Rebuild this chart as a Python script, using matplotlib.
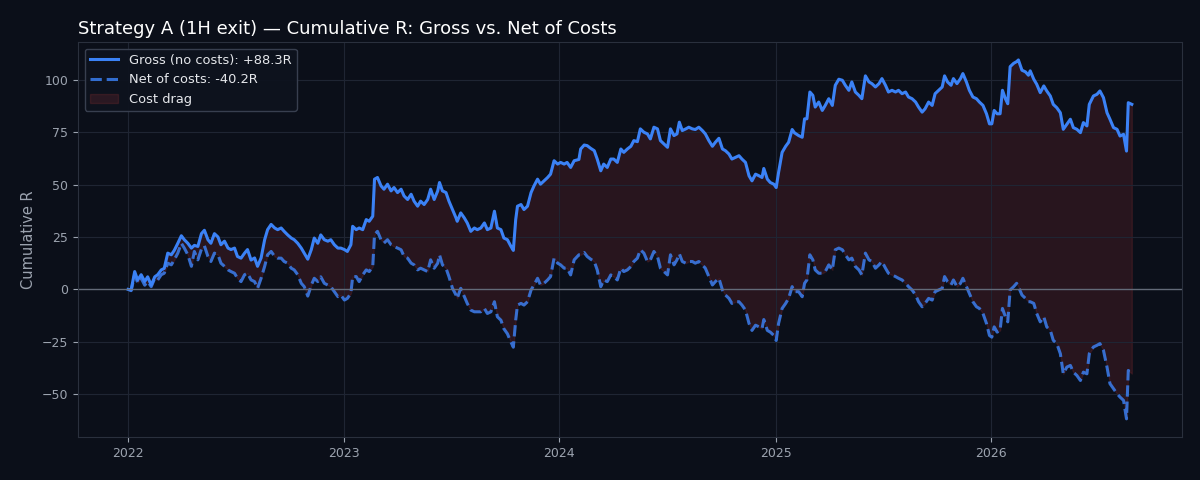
import numpy as np
import pandas as pd
import matplotlib
matplotlib.use("Agg")
import matplotlib.pyplot as plt
import matplotlib.dates as mdates

# days since 2022-01-01
days = [0, 5, 11, 16, 22, 28, 33, 39, 45, 50, 56, 61, 67, 73, 78, 84, 90, 95, 101, 107, 112, 118, 124, 129,
        135, 140, 146, 152, 157, 163, 169, 174, 180, 185, 191, 197, 202, 208, 214, 219, 225, 231, 236, 242,
        248, 253, 259, 264, 270, 276, 281, 287, 293, 298, 304, 310, 315, 321, 326, 332, 338, 343, 349, 355,
        360, 366, 371, 377, 380, 386, 391, 397, 403, 408, 414, 417, 422, 428, 433, 439, 445, 450, 456, 462,
        467, 473, 479, 484, 490, 495, 501, 507, 512, 518, 524, 527, 532, 538, 543, 549, 555, 557, 563, 569,
        574, 580, 586, 591, 597, 603, 608, 614, 620, 625, 631, 636, 642, 648, 652, 656, 659, 665, 670, 676,
        682, 687, 693, 698, 704, 710, 715, 721, 727, 732, 738, 743, 749, 755, 763,
        766, 772, 777, 783, 789, 794, 800, 805, 811, 817, 822, 828, 834, 839, 845, 851, 856, 862, 867, 873,
        879, 884, 890, 896, 901, 907, 913, 918, 924, 929, 933, 938, 944, 949, 955, 960, 966, 972, 977, 983,
        989, 994, 1000, 1006, 1011, 1017, 1022, 1028, 1034, 1039, 1045, 1051, 1056, 1062, 1068, 1073, 1076,
        1082, 1087, 1093, 1097, 1101, 1107, 1113, 1118, 1124, 1128,
        1135, 1141, 1145, 1149, 1154, 1159, 1163, 1169, 1175, 1180, 1186, 1192, 1197, 1203, 1209, 1214, 1220,
        1225, 1231, 1237, 1242, 1248, 1254, 1259, 1265, 1271, 1276, 1282, 1287, 1293, 1299, 1304, 1310, 1316,
        1321, 1327, 1333, 1338, 1344, 1349, 1355, 1361, 1366, 1372, 1378, 1382, 1387, 1393, 1397, 1403, 1409,
        1413, 1419, 1424, 1430, 1436, 1441, 1447, 1453, 1458, 1462, 1466, 1471, 1476, 1480, 1485, 1489, 1493,
        1499, 1504, 1507, 1513, 1519, 1524,
        1527, 1533, 1538, 1544, 1550, 1555, 1561, 1566, 1572, 1578, 1583, 1589, 1595, 1600, 1606, 1612, 1617,
        1623, 1627, 1634, 1640, 1645, 1651, 1657, 1662, 1668, 1674, 1679, 1685, 1690, 1693, 1699]

gross = [0.0, -0.3, 8.5, 4.5, 7, 3.7, 6, 2, 6, 7, 9.3, 10, 17.3, 16.5, 18.6, 22, 25.6, 23.7, 22, 19.7, 21, 20.5,
         26.6, 28.2, 23.7, 22, 26.6, 25, 21.3, 23, 19.7, 19, 19.7, 15.7, 14.9, 17.3, 19, 14, 15, 11, 15, 23.7,
         28.5, 31, 29.3, 28.5, 29.3, 27.7, 26, 24.5, 23.7, 22, 19.7, 17.3, 14.4, 19, 24.5, 22, 26, 23.7, 23,
         23.7, 21.3, 19.7,
         19.7, 19, 18.1, 21.3, 30.1, 28.5, 29.3, 28.5, 33.3, 32.5, 34.9, 52.6, 53.4, 49.4, 47.8, 50.2, 47,
         48.6, 46.2, 47.8, 44.6, 42.9, 45.4, 42.1, 39.7, 42.1, 40.5, 42.9, 47.8, 42.9, 47, 51, 47, 46.2, 42.1,
         38.1, 34.1, 32.5, 36.5, 34.1, 31.7, 27.7, 29.3, 28.5, 29.3, 31.7, 28.5, 29.3, 37.3, 29.3, 28.5, 24.5,
         23.7, 20.5, 18.6, 33.3, 39.7, 40.5, 38.1, 39.7, 46.2, 49.4, 52.6, 50.2, 51.8, 53.4, 55, 61.4, 59.8,
         60.6, 59.8, 60.6, 58.2, 61.4, 62,
         67, 68.9, 68.6, 67.3, 66.2, 62.2, 56.6, 59.8, 58.2, 62.2, 62.2, 60.6, 67, 65.4, 67, 68.3, 71, 70.5,
         76.6, 75, 74.2, 71.8, 77.4, 76.6, 71, 69.4, 67.8, 76.6, 73.4, 74.2, 79.8, 75.8, 76.6, 77.4, 76.6,
         76.3, 77.4, 75.8, 74.2, 71, 68.3, 70.2, 72.1, 67, 66.2, 64.6, 62.2, 63, 63.8, 62.2, 60.6, 54.2, 51.8,
         55, 54.2, 53.4, 57.7, 52.6, 51, 50.2, 48.6, 55.8, 65.4, 68.3, 70.2, 76.3, 74.7,
         73.4, 72.6, 81.4, 81.4, 94.2, 92.6, 87, 89.4, 85.4, 87.8, 91, 87.8, 97.4, 100.3, 99.8, 97.4, 95, 99,
         94.2, 92.6, 91, 101.9, 99, 98.2, 96.6, 98.2, 100.6, 97.4, 94.2, 95, 94.2, 95, 93.4, 94.2, 91.8, 91,
         89.4, 87, 84.6, 86.2, 89.4, 87.8, 93.4, 95, 96.6, 101.9, 99, 97.4, 100.6, 98.2, 100.6, 103, 99, 95,
         91.8, 91, 89.4, 87.8, 83.8, 79, 79, 85.4, 83.8, 83.8, 95, 91, 88.6, 106.3, 107.9, 108.7, 109.5, 104.6,
         103.8, 102.2,
         104.3, 100.3, 97.9, 93.9, 97.1, 94.7, 92.3, 88.3, 86.7, 84.3, 76.4, 78.8, 81.2, 77.2, 76.4, 74.8,
         79.6, 78, 88.3, 92.3, 93.1, 94.7, 91.5, 84.3, 81.2, 77.2, 76.4, 73.2, 74, 66, 89.1, 88.3]

net = [0.0, -0.6, 7, 3.2, 5.3, 2, 3.7, 1.3, 5.3, 4.5, 7, 7.7, 12.5, 11.7, 14.1, 17.3, 22, 19.7, 16.5, 11, 18.1,
       14.1, 19.2, 20.8, 15.7, 13.3, 17.3, 16.5, 12.5, 11, 9.3, 8.5, 7.7, 5.3, 3.7, 7, 7.7, 4.5, 3.7, 0.5, 5.3,
       11, 16.5, 18.1, 15.7, 14.9, 14.9, 13.3, 12.5, 10.1, 9.3, 7, 2.9, 1.3, -3.2, 2, 5.3, 3.7, 6, 2.9, 2, 1.3,
       -1.1, -3.5,
       -2.7, -5.1, -4.3, -1.9, 6.1, 6.1, 3.7, 6.9, 9.3, 8.5, 10.9, 26.1, 27.7, 23.7, 22.1, 23.7, 21.3, 20.5,
       19.7, 18.9, 15.7, 14.9, 12.5, 11.7, 9.3, 10.1, 9.3, 8.5, 14.1, 10.1, 12.5, 16.5, 11.7, 10.1, 6.1, 0.5,
       -2.7, -4.3, 0.5, -3.5, -6.7, -9.9, -10.7, -10.7, -10.7, -9.1, -11.5, -10.7, -5.9, -13.1, -14.7, -18.8,
       -21.2, -25.2, -27.6, -14.7, -7.5, -6.7, -7.5, -5.9, -0.3, 2.1, 5.3, 2.1, 2.9, 4.5, 6.1, 14.9, 12.5,
       11.7, 10.1, 10.1, 6.9, 14.1, 16.5,
       16.5, 17.6, 15.7, 14.4, 13.3, 9.3, 1.3, 4.5, 3.7, 6.9, 6.1, 4.5, 10.1, 8.5, 9.3, 10.9, 13.3, 14.9,
       18.9, 17.3, 13.3, 14.1, 18.1, 15.7, 10.1, 8.5, 6.9, 16.5, 11.7, 14.1, 17, 13.3, 12.5, 13.3, 13.3, 12.5,
       13.3, 11.7, 10.1, 6.1, 2.1, 3.7, 5.3, -0.3, -2.7, -4.3, -6.7, -5.9, -5.9, -7.5, -9.9, -16.3, -19.6,
       -17.1, -17.9, -18.8, -14.4, -19.6, -20.4, -22, -24.4, -16.3, -9.1, -6.7, -4.3, 1.3, -1.1,
       -1.1, -3.5, 2.9, 4.5, 16.5, 14.1, 9.3, 7.7, 7.7, 8.5, 11.7, 9.3, 18.9, 19.7, 18.9, 16.5, 14.1, 14.9,
       10.9, 9.3, 6.9, 17.3, 14.1, 13.3, 10.1, 11.7, 13.3, 10.1, 7.7, 6.9, 6.1, 5.3, 4.5, 2.9, 1.3, -0.3,
       -2.7, -5.9, -8.3, -6.7, -4.3, -5.1, -1.1, -0.3, 0.5, 6.1, 3.7, 2.1, 4.5, 1.3, 2.9, 5.3, 1.3, -1.9,
       -5.9, -8.3, -9.1, -11.5, -16.3, -22, -22.8, -17.9, -20.4, -19.6, -9.1, -13.1, -15.5, -0.3, 1.3, 2.9,
       1.3, -2.7, -4.3, -5.9,
       -5.9, -6.7, -11.5, -15.5, -13.1, -17.9, -19.5, -24.3, -25.9, -30.7, -40.3, -37.1, -36.3, -39.5,
       -41.1, -43.5, -39.5, -40.3, -30.7, -27.5, -26.7, -25.9, -29.1, -37.1, -45, -47.4, -49.8, -51.4, -53,
       -61.8, -38.7, -40.2]

dates = pd.Timestamp("2022-01-01") + pd.to_timedelta(days, unit="D")

bg = "#0b0f19"
txt = "#9ca3af"

fig, ax = plt.subplots(figsize=(12, 4.8), dpi=100)
fig.patch.set_facecolor(bg)
ax.set_facecolor(bg)
fig.subplots_adjust(left=0.065, right=0.985, top=0.9125, bottom=0.09)

ax.fill_between(dates, gross, net, color="#ef4444", alpha=0.13, label="Cost drag")
ax.plot(dates, gross, color="#3b82f6", lw=2.2, label=f"Gross (no costs): +{gross[-1]:.1f}R")
ax.plot(dates, net, color="#3b82f6", lw=2.2, ls="--", alpha=0.82, label=f"Net of costs: {net[-1]:.1f}R")
ax.axhline(0, color="#6b7280", lw=1, alpha=0.9)

ax.set_title("Strategy A (1H exit) — Cumulative R: Gross vs. Net of Costs",
             loc="left", color="white", fontsize=13)
ax.set_ylabel("Cumulative R", color=txt, fontsize=10.5)

ax.xaxis.set_major_locator(mdates.YearLocator())
ax.xaxis.set_major_formatter(mdates.DateFormatter("%Y"))
ax.tick_params(colors=txt, labelsize=9)
ax.grid(True, color="#1f2533", lw=0.8)
for s in ax.spines.values():
    s.set_color("#2a303d")

h, l = ax.get_legend_handles_labels()
leg = ax.legend([h[1], h[2], h[0]], [l[1], l[2], l[0]], loc="upper left", fontsize=9.4,
                handlelength=2.2, facecolor="#0e131e", edgecolor="#3b4252", framealpha=0.95,
                labelcolor="#e5e7eb")

fig.savefig("out.png", facecolor=bg)
